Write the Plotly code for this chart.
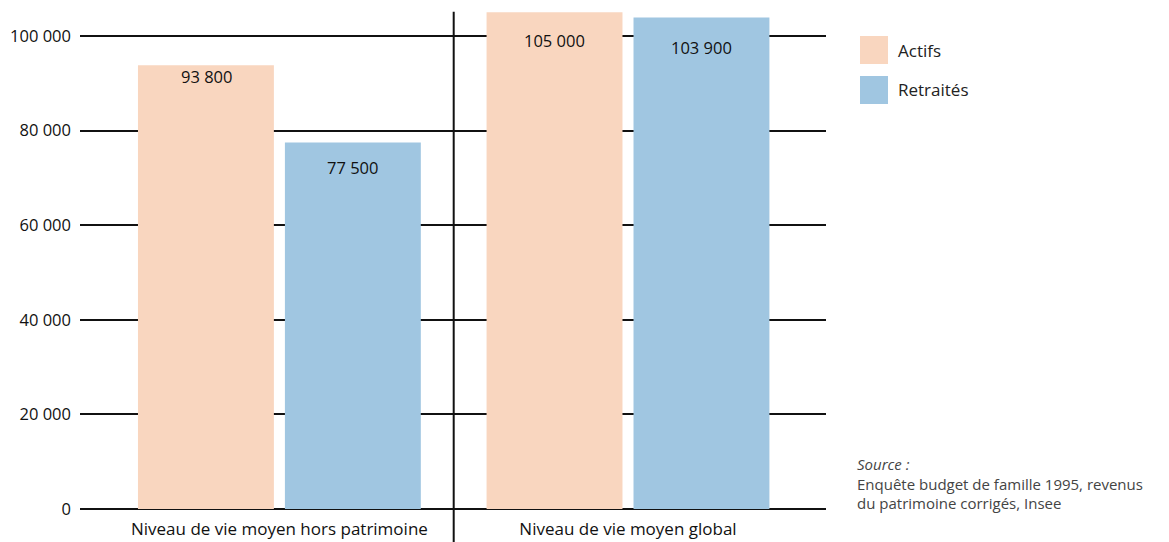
import plotly.graph_objects as go

categories = ["Niveau de vie moyen hors patrimoine", "Niveau de vie moyen global"]
actifs = [93800, 105000]
retraites = [77500, 103900]
value_labels_actifs = ["93 800", "105 000"]
value_labels_retraites = ["77 500", "103 900"]
tick_values = [0, 20000, 40000, 60000, 80000, 100000]
tick_labels = ["0", "20 000", "40 000", "60 000", "80 000", "100 000"]
series_names = ["Actifs", "Retraités"]

COL_ACTIFS = "#F9D6BF"
COL_RETRAITES = "#A0C6E1"
FONT = "Open Sans"

fig = go.Figure()
fig.add_trace(go.Bar(x=[0, 1], y=actifs, name=series_names[0],
                     marker=dict(color=COL_ACTIFS, line=dict(width=0)),
                     showlegend=False, hoverinfo="skip"))
fig.add_trace(go.Bar(x=[0, 1], y=retraites, name=series_names[1],
                     marker=dict(color=COL_RETRAITES, line=dict(width=0)),
                     showlegend=False, hoverinfo="skip"))

# value labels inside the top of each bar
bar_offset = 0.21
label_shifts_actifs = [-11, -28]
label_shifts_retraites = [-25, -30]
for i in range(2):
    fig.add_annotation(x=i - bar_offset, y=actifs[i], text=value_labels_actifs[i],
                       showarrow=False, yshift=label_shifts_actifs[i],
                       font=dict(family=FONT, size=16.5, color="#111"))
    fig.add_annotation(x=i + bar_offset, y=retraites[i], text=value_labels_retraites[i],
                       showarrow=False, yshift=label_shifts_retraites[i],
                       font=dict(family=FONT, size=16.5, color="#111"))

# vertical separator between the two groups
fig.add_shape(type="line", xref="x", yref="paper", x0=0.5, x1=0.5,
              y0=-0.07, y1=0.977, line=dict(color="#111", width=2))

# legend drawn as swatches + text
legend_items = [(series_names[0], COL_ACTIFS, 50), (series_names[1], COL_RETRAITES, 90)]
for name, col, yc in legend_items:
    fig.add_shape(type="rect", xref="paper", yref="paper",
                  x0=(860 - 80) / 746, x1=(888 - 80) / 746,
                  y0=(509 - yc - 14) / 509, y1=(509 - yc + 14) / 509,
                  fillcolor=col, line=dict(width=0))
    fig.add_annotation(xref="paper", yref="paper", x=(896 - 80) / 746,
                       y=(509 - yc) / 509, text=name, showarrow=False,
                       xanchor="left", yanchor="middle",
                       font=dict(family=FONT, size=17, color="#222"))

fig.add_annotation(xref="paper", yref="paper", x=(855 - 80) / 746, y=(509 - 452) / 509,
                   text="<i>Source :</i><br>Enquête budget de famille 1995, revenus<br>du patrimoine corrigés, Insee",
                   showarrow=False, xanchor="left", yanchor="top", align="left",
                   font=dict(family=FONT, size=15, color="#444"))

fig.update_layout(
    width=1169, height=542,
    margin=dict(l=80, r=343, t=0, b=33),
    paper_bgcolor="white", plot_bgcolor="white",
    barmode="group", bargap=0.157, bargroupgap=0.075,
    font=dict(family=FONT, size=17, color="#111"),
)
fig.update_xaxes(range=[-0.572, 1.568], tickvals=[0, 1], ticktext=categories,
                 showgrid=False, zeroline=False, showline=False, ticks="",
                 tickfont=dict(size=17), ticklabelstandoff=8)
fig.update_yaxes(range=[0, 107611], tickvals=tick_values, ticktext=tick_labels,
                 showgrid=True, gridcolor="#111", gridwidth=2,
                 zeroline=True, zerolinecolor="#111", zerolinewidth=2,
                 showline=False, ticks="", ticklabelstandoff=8,
                 tickfont=dict(size=16.5))

fig.write_html("out.html")
